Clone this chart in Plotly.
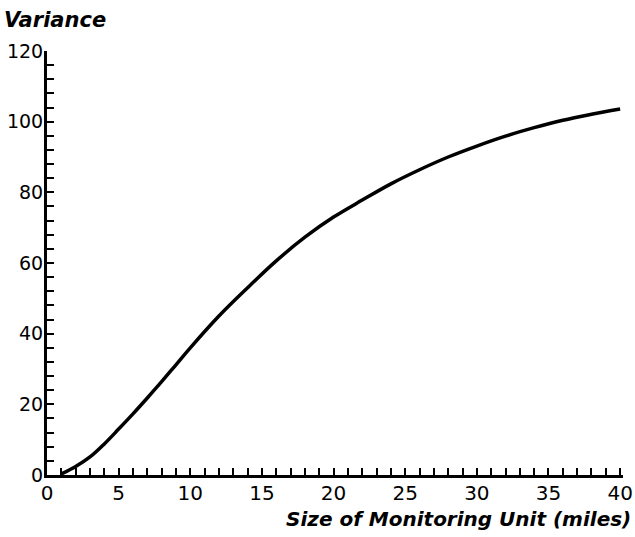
import plotly.graph_objects as go

# Variance as a function of monitoring-unit size
unit_size_miles = [1, 2, 3, 4, 5, 6, 7, 8, 9, 10, 12, 14, 16, 18, 20,
                   22, 24, 26, 28, 30, 32, 34, 36, 38, 40]
variance = [0.3, 2.4, 5.1, 8.8, 13.0, 17.3, 21.8, 26.4, 31.2, 36.0, 45.0,
            53.0, 60.6, 67.3, 73.0, 77.8, 82.4, 86.4, 90.0, 93.1, 95.9,
            98.3, 100.4, 102.1, 103.6]

x_ticks = [0, 5, 10, 15, 20, 25, 30, 35, 40]
y_ticks = [0, 20, 40, 60, 80, 100, 120]

FONT = "DejaVu Sans"

fig = go.Figure()
fig.add_trace(go.Scatter(
    x=unit_size_miles, y=variance, mode="lines",
    line=dict(color="black", width=3.5, shape="spline", smoothing=1.0),
    hoverinfo="skip", showlegend=False,
))

fig.update_layout(
    width=635, height=537,
    margin=dict(l=47, r=12, t=51, b=62),
    paper_bgcolor="white", plot_bgcolor="white",
    font=dict(family=FONT, color="black"),
    xaxis=dict(
        range=[0, 40.2], tickvals=x_ticks, ticktext=[str(v) for v in x_ticks],
        ticks="inside", ticklen=7, tickwidth=2, tickcolor="black",
        minor=dict(dtick=1, ticks="inside", ticklen=7, tickwidth=2, tickcolor="black"),
        showline=True, linewidth=3, linecolor="black", showgrid=False,
        zeroline=False, tickfont=dict(family=FONT, size=20, color="black"),
        ticklabelstandoff=-2, automargin=False, fixedrange=True,
    ),
    yaxis=dict(
        range=[0, 120], tickvals=y_ticks, ticktext=[str(v) for v in y_ticks],
        ticks="inside", ticklen=7, tickwidth=2, tickcolor="black",
        minor=dict(dtick=4, ticks="inside", ticklen=7, tickwidth=2, tickcolor="black"),
        showline=True, linewidth=3, linecolor="black", showgrid=False,
        zeroline=False, tickfont=dict(family=FONT, size=19, color="black"),
        ticklabelstandoff=-3, automargin=False, fixedrange=True,
    ),
    annotations=[
        dict(text="<b><i>Variance</i></b>", xref="paper", yref="paper",
             x=0, y=1, xshift=-45, yshift=31, xanchor="left", yanchor="middle",
             showarrow=False, font=dict(family=FONT, size=21, color="black")),
        dict(text="<b><i>Size of Monitoring Unit (miles)</i></b>", xref="paper", yref="paper",
             x=1, y=0, xshift=10, yshift=-44, xanchor="right", yanchor="middle",
             showarrow=False, font=dict(family=FONT, size=20, color="black")),
    ],
)

fig.write_html("out.html")
